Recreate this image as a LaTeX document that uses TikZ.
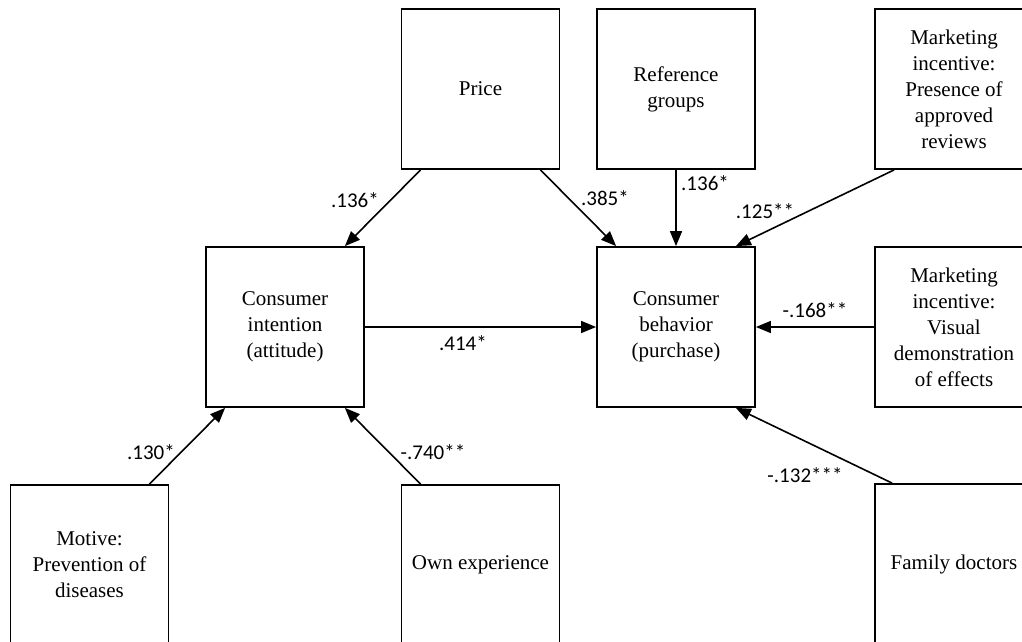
\documentclass[tikz,border=0pt]{standalone}
\usepackage{fontspec}
\setmainfont{Liberation Serif}
\newfontfamily\lblfont{Carlito}
\usetikzlibrary{arrows.meta}
\tikzset{
  box/.style={draw, line width=1.8pt, minimum width=158pt, minimum height=160pt, inner sep=0pt, align=center, font=\fontsize{21}{26}\selectfont},
  conn/.style={line width=1.6pt, -{Triangle[length=15pt,width=12pt]}},
  lbl/.style={inner sep=0pt, font=\lblfont\fontsize{21}{24}\selectfont}
}
\begin{document}
\begin{tikzpicture}[x=1pt,y=-1pt]
\useasboundingbox (0,0) rectangle (1022,642);
\clip (0,0) rectangle (1022,642);
\node[box] (price) at (480.5,89) {Price};
\node[box] (ref) at (676,89) {Reference\\groups};
\node[box] (pres) at (954,89) {Marketing\\incentive:\\Presence of\\approved\\reviews};
\node[box] (int) at (285,327) {Consumer\\intention\\(attitude)};
\node[box] (beh) at (676,327) {Consumer\\behavior\\(purchase)};
\node[box] (vis) at (954,327) {Marketing\\incentive:\\Visual\\demonstration\\of effects};
\node[box] (mot) at (89.5,565) {Motive:\\Prevention of\\diseases};
\node[box] (own) at (480.5,565) {Own experience};
\node[box] (fam) at (954,564) {Family doctors};

\draw[conn] ([xshift=20pt]price.south west) -- ([xshift=-20pt]int.north east);
\draw[conn] ([xshift=-20pt]price.south east) -- ([xshift=20pt]beh.north west);
\draw[conn] (ref.south) -- (beh.north);
\draw[conn] ([xshift=20pt]pres.south west) -- ([xshift=-20pt]beh.north east);
\draw[conn] (int.east) -- (beh.west);
\draw[conn] (vis.west) -- (beh.east);
\draw[conn] ([xshift=-20pt]mot.north east) -- ([xshift=20pt]int.south west);
\draw[conn] ([xshift=20pt]own.north west) -- ([xshift=-20pt]int.south east);
\draw[conn] ([xshift=18pt]fam.north west) -- ([xshift=-20pt]beh.south east);

\node[lbl] (l1) at (355,200) {.136*};
\node[lbl] (l2) at (605,198) {.385*};
\node[lbl] (l3) at (705,183) {.136*};
\node[lbl] (l4) at (765,211) {.125**};
\node[lbl] (l5) at (463,343) {.414*};
\node[lbl] (l6) at (815,310) {-.168**};
\node[lbl] (l7) at (151,452) {.130*};
\node[lbl] (l8) at (433,452) {-.740**};
\node[lbl] (l9) at (805,475) {-.132***};
\end{tikzpicture}
\end{document}
